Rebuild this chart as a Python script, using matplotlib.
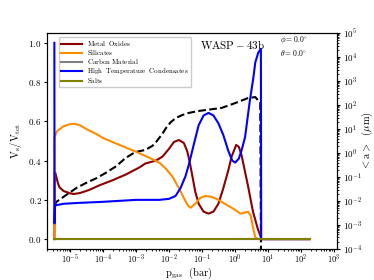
import numpy as np
import matplotlib
matplotlib.use("Agg")
import matplotlib.pyplot as plt
from matplotlib.ticker import FuncFormatter, LogLocator, FixedLocator

plt.rcParams['mathtext.fontset'] = 'cm'
plt.rcParams['font.family'] = 'serif'
plt.rcParams['font.serif'] = ['DejaVu Serif']

# ---- data (pressure in log10 bar) ----
logp_htc = [-5.48, -5.475, -5.46, -5.42, -5.2, -4.8, -4.0, -3.0, -2.3, -2.0, -1.8, -1.65,
            -1.5, -1.4, -1.25, -1.1, -0.95, -0.8, -0.65, -0.5, -0.35, -0.2, -0.08, 0.01,
            0.12, 0.2, 0.31, 0.45, 0.56, 0.62, 0.71, 0.79, 0.8, 2.27]
v_htc = [1.0, 0.08, 0.17, 0.173, 0.18, 0.184, 0.19, 0.2, 0.2, 0.205, 0.22, 0.26,
         0.32, 0.378, 0.48, 0.58, 0.63, 0.643, 0.63, 0.59, 0.53, 0.45, 0.40, 0.39,
         0.41, 0.45, 0.52, 0.70, 0.82, 0.90, 0.95, 0.97, 0.0, 0.0]

logp_mo = [-5.48, -5.47, -5.45, -5.38, -5.33, -5.2, -5.0, -4.88, -4.7, -4.43, -4.1, -3.71,
           -3.3, -2.9, -2.72, -2.4, -2.2, -2.0, -1.85, -1.7, -1.55, -1.45, -1.38, -1.3,
           -1.2, -1.1, -0.95, -0.8, -0.65, -0.5, -0.35, -0.2, -0.1, 0.04, 0.12, 0.2,
           0.3, 0.4, 0.55, 0.7, 0.79, 0.8, 2.27]
v_mo = [0.0, 0.34, 0.337, 0.29, 0.265, 0.245, 0.233, 0.23, 0.235, 0.25, 0.275, 0.30,
        0.33, 0.365, 0.385, 0.40, 0.42, 0.46, 0.495, 0.505, 0.49, 0.45, 0.40, 0.33,
        0.24, 0.18, 0.14, 0.13, 0.14, 0.18, 0.26, 0.35, 0.42, 0.48, 0.47, 0.43,
        0.35, 0.27, 0.14, 0.05, 0.01, 0.0, 0.0]

logp_sil = [-5.48, -5.475, -5.4, -5.2, -5.0, -4.88, -4.7, -4.5, -4.2, -4.0, -3.5, -3.0,
            -2.6, -2.3, -2.1, -1.9, -1.7, -1.55, -1.42, -1.34, -1.2, -1.05, -0.89, -0.7,
            -0.5, -0.25, 0.0, 0.17, 0.3, 0.4, 0.48, 0.55, 0.62, 0.7, 2.27]
v_sil = [0.0, 0.52, 0.55, 0.575, 0.586, 0.588, 0.58, 0.56, 0.535, 0.515, 0.48, 0.445,
         0.415, 0.39, 0.36, 0.32, 0.26, 0.21, 0.17, 0.16, 0.18, 0.21, 0.22, 0.215,
         0.2, 0.175, 0.15, 0.13, 0.135, 0.14, 0.12, 0.06, 0.01, 0.0, 0.0]

logp_flat = [-5.48, 2.27]
v_carbon = [0.0, 0.0]
v_salts = [0.0, 0.0]

# mean particle size <a> in log10 micron
logp_a = [-5.48, -5.42, -5.12, -4.8, -4.52, -4.2, -3.92, -3.6, -3.32, -3.02, -2.72, -2.5,
          -2.39, -2.2, -2.09, -1.95, -1.79, -1.6, -1.4, -1.1, -0.89, -0.41, 0.01, 0.4,
          0.62, 0.7, 0.77, 0.8]
loga = [-2.2, -2.04, -1.75, -1.45, -1.25, -1.05, -0.83, -0.55, -0.21, 0.04, 0.125, 0.3,
        0.46, 0.8, 1.04, 1.28, 1.46, 1.58, 1.67, 1.75, 1.79, 1.875, 2.08, 2.29,
        2.33, 2.2, 2.125, -6.0]

def tenpow(v):
    return 10.0 ** np.array(v)

fig = plt.figure(figsize=(3.74, 2.8), dpi=100)
ax = fig.add_axes([0.126, 0.111, 0.775, 0.771])

ax.plot(tenpow(logp_mo), v_mo, color='darkred', lw=1.5, label=r'$\mathrm{Metal\ \ Oxides}$')
ax.plot(tenpow(logp_sil), v_sil, color='darkorange', lw=1.5, label=r'$\mathrm{Silicates}$')
ax.plot(tenpow(logp_flat), v_carbon, color='grey', lw=1.5, label=r'$\mathrm{Carbon\ Material}$')
ax.plot(tenpow(logp_htc), v_htc, color='blue', lw=1.5,
        label=r'$\mathrm{High\ \ Temperature\ \ Condensates}$')
ax.plot(tenpow(logp_flat), v_salts, color='olive', lw=1.5, label=r'$\mathrm{Salts}$')

ax.set_xscale('log')
ax.set_xlim(10 ** -5.7, 10 ** 3.1)
ax.set_ylim(-0.05, 1.05)
ax.xaxis.set_major_locator(FixedLocator(tenpow(np.arange(-5, 4))))
ax.xaxis.set_minor_locator(LogLocator(base=10, subs=np.arange(2, 10), numticks=20))
ax.xaxis.set_major_formatter(FuncFormatter(lambda v, pos: r'$10^{%d}$' % round(np.log10(v))))
ax.yaxis.set_major_formatter(FuncFormatter(lambda v, pos: r'$%.1f$' % v))
ax.tick_params(labelsize=6.5, length=2.5, pad=1.5)
ax.tick_params(axis='x', labelsize=6.2, pad=0.3)
ax.tick_params(which='minor', length=1.5)
ax.set_xlabel(r'$\mathrm{p_{gas}\ \ (bar)}$', fontsize=7.5)
ax.set_ylabel(r'$\mathrm{V_s/V_{tot}}$', fontsize=7.5)
ax.xaxis.set_label_coords(0.49, -0.08)
ax.yaxis.set_label_coords(-0.08, 0.5)

leg = ax.legend(loc='upper left', bbox_to_anchor=(0.041, 0.981), borderaxespad=0,
                fontsize=5, handlelength=3.0, labelspacing=0.0, borderpad=0.3,
                handleheight=0.5, framealpha=1)

ax.text(0.64, 0.949, r'$\mathrm{WASP-43b}$', transform=ax.transAxes,
        ha='center', va='center', fontsize=8)
ax.text(0.803, 0.968, r'$\phi = 0.0^{\circ}$', transform=ax.transAxes,
        ha='left', va='center', fontsize=5.5)
ax.text(0.803, 0.907, r'$\theta = 0.0^{\circ}$', transform=ax.transAxes,
        ha='left', va='center', fontsize=5.5)

ax2 = ax.twinx()
ax2.plot(tenpow(logp_a), tenpow(loga), color='black', ls='--', lw=1.5)
ax2.set_yscale('log')
ax2.set_ylim(1e-4, 1e5)
ax2.yaxis.set_major_locator(FixedLocator(tenpow(np.arange(-4, 6))))
ax2.yaxis.set_minor_locator(LogLocator(base=10, subs=np.arange(2, 10), numticks=20))
ax2.yaxis.set_major_formatter(FuncFormatter(lambda v, pos: r'$10^{%d}$' % round(np.log10(v))))
ax2.tick_params(labelsize=6.5, length=2.5, pad=1.5)
ax2.tick_params(which='minor', length=1.5)
ax2.set_ylabel(r'$\mathrm{<a>\ \ (\mu m)}$', fontsize=7.5)
ax2.yaxis.set_label_coords(1.079, 0.5)

# coloured curves sit above the dashed size curve
ax.set_zorder(ax2.get_zorder() + 1)
ax.patch.set_visible(False)

fig.savefig('out.png', dpi=100)
